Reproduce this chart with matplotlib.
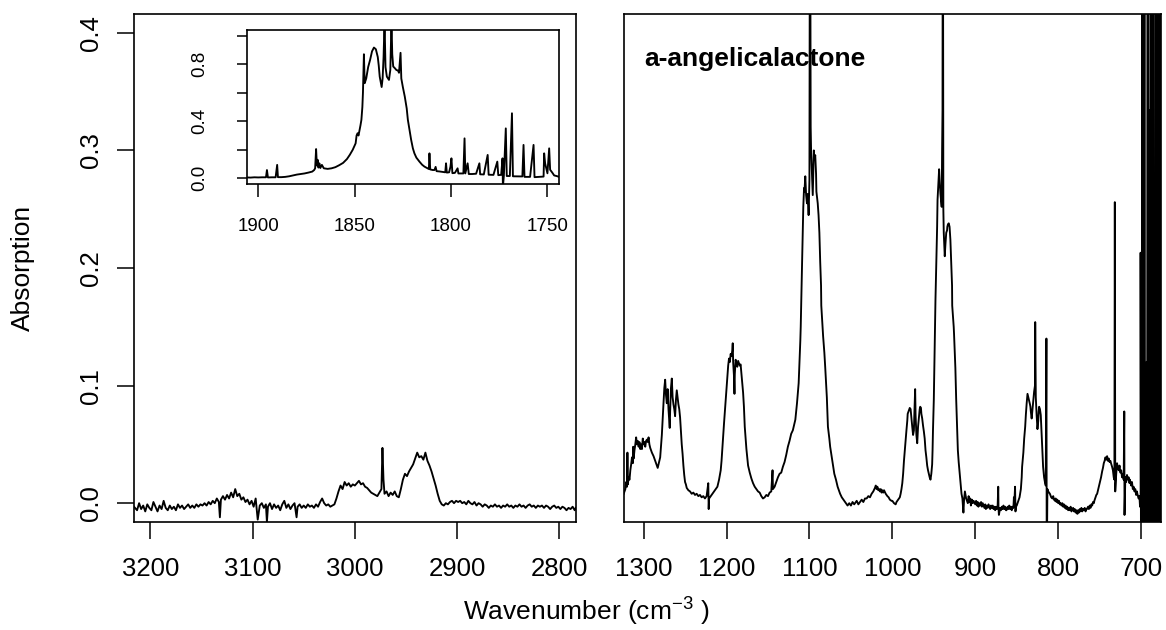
import numpy as np
import matplotlib.pyplot as plt

plt.rcParams['font.family'] = ['Liberation Sans', 'DejaVu Sans']
plt.rcParams['mathtext.fontset'] = 'custom'
plt.rcParams['mathtext.rm'] = 'Liberation Sans'
plt.rcParams['mathtext.it'] = 'Liberation Sans:italic'

# C-H stretch region (wavenumber, absorption)
ch_band = [
    (3216, -0.003), (3213, -0.006), (3211, 0.000), (3209, -0.005), (3207, -0.002),
    (3205, -0.007), (3203, -0.001), (3201, -0.004), (3199, -0.006), (3197, 0.001),
    (3195, -0.003), (3193, -0.007), (3191, -0.002), (3189, -0.005), (3187, 0.002),
    (3185, -0.004), (3183, -0.006), (3181, -0.002), (3179, -0.005), (3177, -0.003),
    (3175, -0.006), (3173, -0.001), (3171, -0.004), (3169, -0.002), (3167, -0.005),
    (3165, -0.003), (3163, -0.001), (3161, -0.004), (3159, -0.002), (3157, -0.004),
    (3155, -0.001), (3153, -0.003), (3151, -0.001), (3149, -0.002), (3147, 0.000),
    (3145, -0.002), (3143, 0.001), (3141, -0.001), (3139, 0.002), (3137, 0.000),
    (3135, 0.004), (3133, 0.001), (3132, -0.012), (3131, 0.003), (3129, 0.006),
    (3127, 0.003), (3125, 0.007), (3123, 0.004), (3121, 0.009), (3119, 0.005),
    (3117, 0.012), (3115, 0.006), (3113, 0.008), (3111, 0.003), (3109, 0.005),
    (3107, 0.001), (3105, 0.003), (3103, -0.001), (3101, 0.002), (3099, -0.003),
    (3097, 0.004), (3095, -0.014), (3093, -0.002), (3091, 0.000), (3089, -0.004),
    (3087, -0.001), (3086, -0.016), (3085, -0.003), (3083, 0.000), (3081, -0.005),
    (3079, -0.001), (3077, -0.004), (3075, -0.002), (3073, -0.006), (3071, -0.001),
    (3069, 0.002), (3067, -0.004), (3065, -0.001), (3063, -0.005), (3061, -0.002),
    (3059, 0.000), (3057, -0.012), (3056, -0.003), (3054, -0.001), (3052, -0.004),
    (3050, -0.002), (3048, -0.004), (3046, -0.001), (3044, -0.003), (3042, -0.002),
    (3040, -0.004), (3038, -0.001), (3036, -0.003), (3034, 0.001), (3032, 0.004),
    (3030, 0.000), (3028, -0.002), (3026, -0.001), (3024, -0.003), (3022, -0.002),
    (3020, -0.001), (3018, 0.004), (3016, 0.010), (3014, 0.015), (3012, 0.012),
    (3010, 0.018), (3008, 0.015), (3006, 0.017), (3004, 0.014), (3002, 0.016),
    (3000, 0.015), (2998, 0.017), (2996, 0.019), (2994, 0.016), (2992, 0.017),
    (2990, 0.014), (2988, 0.013), (2986, 0.011), (2984, 0.009), (2982, 0.008),
    (2980, 0.007), (2978, 0.006), (2976, 0.009), (2974, 0.012), (2973, 0.047),
    (2972, 0.020), (2971, 0.008), (2969, 0.010), (2967, 0.006), (2965, 0.009),
    (2963, 0.007), (2961, 0.010), (2959, 0.006), (2957, 0.005), (2955, 0.012),
    (2953, 0.020), (2951, 0.025), (2949, 0.023), (2947, 0.027), (2945, 0.030),
    (2943, 0.033), (2941, 0.038), (2939, 0.043), (2937, 0.039), (2935, 0.040),
    (2933, 0.037), (2931, 0.043), (2929, 0.036), (2927, 0.032), (2925, 0.027),
    (2923, 0.021), (2921, 0.015), (2919, 0.008), (2917, 0.002), (2915, -0.001),
    (2913, -0.002), (2911, 0.000), (2909, -0.001), (2907, 0.001), (2905, 0.002),
    (2903, 0.000), (2901, 0.002), (2899, 0.001), (2897, 0.002), (2895, 0.000),
    (2893, 0.001), (2891, -0.001), (2889, 0.002), (2887, 0.000), (2885, -0.001),
    (2883, 0.001), (2881, -0.002), (2879, 0.000), (2877, -0.001), (2875, -0.003),
    (2873, -0.001), (2871, -0.002), (2869, -0.004), (2867, -0.002), (2865, -0.003),
    (2863, -0.001), (2861, -0.003), (2859, -0.002), (2857, -0.004), (2855, -0.002),
    (2853, -0.003), (2851, -0.001), (2849, -0.003), (2847, -0.002), (2845, -0.004),
    (2843, -0.002), (2841, -0.003), (2839, -0.001), (2837, -0.003), (2835, -0.002),
    (2833, -0.004), (2831, -0.002), (2829, -0.001), (2827, -0.003), (2825, -0.002),
    (2823, -0.004), (2821, -0.002), (2819, -0.003), (2817, -0.002), (2815, -0.004),
    (2813, -0.002), (2811, -0.003), (2809, -0.005), (2807, -0.003), (2805, -0.002),
    (2803, -0.004), (2801, -0.003), (2799, -0.005), (2797, -0.003), (2795, -0.004),
    (2793, -0.006), (2791, -0.004), (2789, -0.005), (2787, -0.003), (2785, -0.006),
    (2784, -0.004),
]

# C=O stretch region, shown in the inset
co_band = [
    (1906, 0.006), (1904, 0.005), (1902, 0.007), (1900, 0.006), (1898, 0.007),
    (1896, 0.007), (1895.5, 0.058), (1895, 0.006), (1893, 0.007), (1891, 0.007),
    (1890.2, 0.094), (1889.8, 0.008), (1888, 0.008), (1886, 0.010), (1884, 0.014),
    (1882, 0.020), (1880, 0.026), (1878, 0.030), (1876, 0.034), (1874, 0.040),
    (1872, 0.047), (1871, 0.058), (1870.5, 0.070), (1870, 0.205), (1869.6, 0.090),
    (1869.2, 0.130), (1868.8, 0.075), (1868.3, 0.105), (1867.8, 0.072), (1867, 0.094),
    (1866, 0.070), (1864, 0.066), (1862, 0.070), (1860, 0.078), (1858, 0.092),
    (1856, 0.108), (1854, 0.135), (1852.5, 0.165), (1851, 0.200), (1849.5, 0.245),
    (1849, 0.300), (1848.5, 0.316), (1848, 0.300), (1847, 0.370), (1846.5, 0.410),
    (1846, 0.500), (1845.7, 0.600), (1845.2, 0.870), (1844.8, 0.667), (1844, 0.700),
    (1843, 0.780), (1842, 0.830), (1841, 0.890), (1840, 0.917), (1839, 0.905),
    (1838, 0.850), (1837.5, 0.790), (1837, 0.713), (1836, 0.640), (1835.5, 0.700),
    (1835, 0.850), (1834.5, 1.100), (1834, 0.780), (1833.3, 0.713), (1832.2, 0.690),
    (1831.5, 0.760), (1830.9, 1.100), (1830.5, 0.870), (1830, 0.784), (1829, 0.770),
    (1828.4, 0.760), (1827.5, 0.755), (1827, 0.740), (1826.2, 0.880), (1825.8, 0.700),
    (1825, 0.640), (1824, 0.573), (1823, 0.490), (1822.4, 0.410), (1821.5, 0.335),
    (1820.7, 0.270), (1819.8, 0.210), (1819, 0.175), (1818, 0.145), (1816.4, 0.117),
    (1815, 0.095), (1813.8, 0.082), (1812.5, 0.072), (1811.5, 0.065), (1811.2, 0.175),
    (1810.8, 0.062), (1809.5, 0.058), (1808.6, 0.058), (1808, 0.080), (1807.5, 0.050),
    (1806, 0.048), (1804.5, 0.045), (1803, 0.042), (1802.6, 0.105), (1802.2, 0.040),
    (1801, 0.042), (1800.3, 0.082), (1799.8, 0.140), (1799.3, 0.036), (1798, 0.038),
    (1796.6, 0.070), (1796.2, 0.034), (1795, 0.034), (1793.6, 0.034), (1793, 0.280),
    (1792.6, 0.034), (1791.4, 0.105), (1790.8, 0.030), (1789, 0.030), (1787, 0.032),
    (1785.3, 0.105), (1784.9, 0.028), (1783, 0.027), (1781, 0.164), (1780.5, 0.025),
    (1778, 0.024), (1776, 0.117), (1775.5, 0.022), (1774, 0.024), (1773.3, 0.140),
    (1773.1, -0.060), (1772.6, 0.018), (1771.6, 0.350), (1771.1, 0.016), (1769.5, 0.016),
    (1768.4, 0.456), (1767.9, 0.014), (1765, 0.013), (1763, 0.013), (1762.4, 0.234),
    (1761.9, 0.010), (1759, 0.010), (1757.2, 0.234), (1756.7, 0.008), (1754, 0.010),
    (1752, 0.012), (1751.7, 0.175), (1751.2, 0.105), (1750, 0.035), (1749.1, 0.210),
    (1748.6, 0.060), (1747.5, 0.040), (1746.5, 0.020), (1745, 0.015), (1744, 0.010),
]

# fingerprint region
fp_band = [
    (1324, 0.008), (1322, 0.012), (1321, 0.018), (1320, 0.014), (1319.5, 0.043),
    (1319, 0.016), (1318, 0.022), (1317, 0.020), (1316, 0.028), (1315, 0.033),
    (1314, 0.039), (1313, 0.034), (1312.5, 0.048), (1312, 0.038), (1311, 0.045),
    (1310, 0.050), (1309, 0.056), (1308, 0.050), (1307, 0.053), (1306, 0.048),
    (1305, 0.052), (1304, 0.046), (1303, 0.050), (1302, 0.046), (1301, 0.055),
    (1300, 0.050), (1299, 0.052), (1298, 0.048), (1297, 0.053), (1296, 0.054),
    (1295, 0.052), (1294, 0.056), (1293, 0.050), (1292, 0.047), (1291, 0.045),
    (1290, 0.043), (1288, 0.040), (1286, 0.036), (1284, 0.032), (1283, 0.030),
    (1282, 0.033), (1281, 0.036), (1280, 0.039), (1279, 0.048), (1278, 0.058),
    (1277, 0.072), (1276, 0.085), (1275, 0.098), (1274, 0.105), (1273, 0.092),
    (1272, 0.085), (1271, 0.097), (1270, 0.080), (1269, 0.070), (1268.5, 0.064),
    (1268, 0.078), (1267, 0.098), (1266, 0.106), (1265, 0.090), (1264, 0.084),
    (1263, 0.080), (1262, 0.074), (1261, 0.088), (1260, 0.096), (1259, 0.090),
    (1258, 0.084), (1257, 0.080), (1256, 0.073), (1255, 0.062), (1254, 0.050),
    (1253, 0.042), (1252, 0.032), (1251, 0.024), (1250, 0.018), (1249, 0.016),
    (1248, 0.013), (1246, 0.011), (1244, 0.010), (1242, 0.008), (1240, 0.009),
    (1238, 0.007), (1236, 0.008), (1234, 0.006), (1232, 0.007), (1230, 0.005),
    (1228, 0.006), (1226, 0.004), (1224, 0.006), (1222, 0.017), (1221.5, -0.005),
    (1221, 0.004), (1219, 0.006), (1217, 0.008), (1215, 0.010), (1213, 0.012),
    (1211, 0.014), (1209, 0.020), (1207, 0.028), (1206, 0.036), (1205, 0.047),
    (1204, 0.059), (1203, 0.068), (1202, 0.078), (1201, 0.088), (1200, 0.098),
    (1199, 0.108), (1198, 0.117), (1197, 0.123), (1196, 0.120), (1195, 0.127),
    (1194, 0.125), (1193, 0.130), (1192.5, 0.136), (1192, 0.120), (1191, 0.108),
    (1190.4, 0.093), (1190, 0.110), (1189, 0.122), (1188, 0.118), (1187, 0.116),
    (1186, 0.121), (1185, 0.119), (1184, 0.117), (1183, 0.118), (1182, 0.110),
    (1181, 0.102), (1180, 0.094), (1179, 0.082), (1178, 0.065), (1177, 0.055),
    (1176, 0.046), (1175, 0.039), (1174, 0.032), (1172, 0.026), (1170, 0.021),
    (1168, 0.017), (1166, 0.014), (1164, 0.012), (1162, 0.010), (1160, 0.009),
    (1158, 0.006), (1156, 0.004), (1154, 0.005), (1152, 0.007), (1150, 0.006),
    (1148, 0.009), (1146, 0.010), (1144.5, 0.028), (1144, 0.012), (1142, 0.014),
    (1140, 0.018), (1138, 0.022), (1136, 0.025), (1134, 0.026), (1132, 0.031),
    (1130, 0.035), (1128, 0.041), (1126, 0.048), (1124, 0.053), (1122, 0.059),
    (1120, 0.062), (1118, 0.068), (1117, 0.071), (1116, 0.078), (1115, 0.085),
    (1114, 0.093), (1113, 0.102), (1112, 0.120), (1111, 0.138), (1110.5, 0.150),
    (1110, 0.168), (1109, 0.200), (1108, 0.232), (1107.4, 0.252), (1106.5, 0.268),
    (1106, 0.265), (1105, 0.278), (1104, 0.262), (1103, 0.255), (1102, 0.263),
    (1101, 0.245), (1100, 0.275), (1099.3, 0.600), (1098.5, 0.320), (1098, 0.300),
    (1097, 0.280), (1096, 0.262), (1095, 0.290), (1094.7, 0.300), (1094, 0.292),
    (1093, 0.296), (1092, 0.280), (1091.6, 0.265), (1090, 0.255), (1089, 0.245),
    (1088, 0.230), (1087, 0.205), (1086, 0.185), (1085.7, 0.168), (1085, 0.160),
    (1084, 0.150), (1083.5, 0.142), (1082, 0.128), (1081, 0.116), (1079, 0.090),
    (1077.7, 0.065), (1076, 0.055), (1075, 0.048), (1073, 0.039), (1071, 0.030),
    (1070, 0.025), (1068, 0.020), (1066, 0.014), (1064, 0.010), (1063, 0.008),
    (1061, 0.005), (1059, 0.003), (1057, 0.001), (1055, -0.001), (1054, -0.002),
    (1052, 0.000), (1050, -0.002), (1048, 0.001), (1046, -0.001), (1045, 0.000),
    (1043, 0.002), (1041, -0.001), (1039, 0.001), (1037, 0.003), (1035, 0.001),
    (1033, 0.004), (1031, 0.004), (1029, 0.006), (1027, 0.005), (1025, 0.008),
    (1023, 0.010), (1021, 0.013), (1020, 0.015), (1019, 0.012), (1018, 0.014),
    (1017, 0.011), (1016, 0.012), (1015, 0.010), (1014, 0.012), (1013, 0.009),
    (1012, 0.011), (1011, 0.009), (1010, 0.011), (1008, 0.008), (1006, 0.006),
    (1004.5, 0.005), (1003, 0.003), (1001, 0.002), (1000, 0.002), (998, 0.000),
    (996, -0.001), (995, 0.001), (993, 0.003), (991, 0.005), (990, 0.008),
    (989, 0.012), (988, 0.017), (987, 0.025), (986, 0.036), (985, 0.045),
    (984, 0.053), (983, 0.062), (982, 0.070), (981.5, 0.076), (980, 0.079),
    (979, 0.081), (978, 0.080), (977, 0.072), (976, 0.065), (975, 0.058),
    (974.5, 0.060), (974, 0.062), (973.5, 0.075), (972.5, 0.097), (972, 0.075),
    (971, 0.058), (970, 0.051), (969, 0.065), (968, 0.073), (967, 0.080),
    (966.4, 0.082), (965.5, 0.081), (965, 0.076), (964, 0.072), (963, 0.066),
    (962, 0.061), (961, 0.055), (960, 0.045), (959, 0.039), (958, 0.032),
    (957, 0.028), (956, 0.025), (955, 0.022), (954, 0.020), (953, 0.025),
    (952, 0.033), (951.5, 0.045), (951, 0.062), (950, 0.088), (949, 0.130),
    (948, 0.173), (947, 0.205), (946, 0.235), (945.5, 0.258), (945, 0.265),
    (944, 0.280), (943.6, 0.284), (943, 0.275), (942, 0.263), (941, 0.255),
    (940.5, 0.252), (940, 0.300), (939.5, 0.334), (939.1, 0.600), (938.5, 0.250),
    (938, 0.230), (937, 0.212), (936.8, 0.210), (936, 0.220), (935, 0.230),
    (934, 0.232), (933.7, 0.235), (933, 0.237), (932, 0.238), (931, 0.235),
    (930, 0.224), (929, 0.205), (928, 0.185), (927.8, 0.168), (927, 0.160),
    (926, 0.150), (925.6, 0.144), (924, 0.115), (923, 0.088), (922, 0.065),
    (921, 0.045), (920, 0.035), (919, 0.027), (918.8, 0.025), (918, 0.018),
    (917, 0.012), (916.6, 0.008), (915.5, 0.004), (914.3, -0.008), (913.5, 0.003),
    (912.5, 0.010), (911, 0.004), (910, 0.002), (909, 0.000), (908, 0.006),
    (907, 0.001), (906, 0.004), (905.3, -0.002), (904, 0.003), (903, 0.000),
    (902, 0.002), (900, -0.001), (899, 0.002), (898, -0.002), (897, 0.001),
    (896.2, -0.003), (895, 0.000), (894, -0.002), (893, 0.001), (892, -0.003),
    (891, 0.000), (890, -0.002), (889, -0.004), (888, -0.001), (887.2, -0.005),
    (886, -0.002), (885, -0.004), (884, -0.001), (883, -0.003), (882, -0.005),
    (881, -0.002), (880, -0.004), (879, -0.002), (878, -0.005), (877, -0.003),
    (876, -0.006), (875, -0.003), (874, -0.005), (873, -0.002), (872.3, 0.014),
    (872, -0.004), (871.5, -0.010), (870, -0.004), (869, -0.006), (868, -0.003),
    (867, -0.005), (866, -0.002), (865, -0.005), (864, -0.003), (863, -0.006),
    (862.4, -0.006), (861, -0.003), (860, -0.005), (859, -0.002), (858, -0.005),
    (857, -0.003), (856, -0.006), (855, -0.003), (854, -0.004), (853.4, 0.005),
    (853, -0.002), (852, 0.014), (851.5, -0.007), (851, -0.003), (850, -0.002),
    (849, 0.000), (848, 0.002), (846.6, 0.005), (845, 0.012), (844, 0.022),
    (843.5, 0.031), (842, 0.043), (841, 0.055), (839.8, 0.065), (839, 0.075),
    (838, 0.085), (837, 0.093), (836, 0.090), (835, 0.087), (834, 0.084),
    (833.5, 0.082), (833, 0.078), (832, 0.072), (831, 0.080), (830, 0.088),
    (829, 0.095), (828, 0.100), (827.7, 0.154), (827, 0.090), (826, 0.075),
    (825, 0.063), (824, 0.070), (823.5, 0.078), (823, 0.082), (822, 0.080),
    (821, 0.075), (820, 0.060), (819, 0.045), (818.2, 0.031), (817, 0.022),
    (816, 0.018), (815, 0.015), (814.2, 0.140), (813.8, -0.060), (813, 0.012),
    (812, 0.010), (811, 0.009), (810, 0.008), (809, 0.006), (808.4, 0.005),
    (807, 0.004), (806, 0.006), (805, 0.003), (803.8, 0.002), (803, 0.004),
    (802, 0.001), (801, 0.003), (800, 0.000), (799, 0.002), (798, -0.001),
    (797, 0.000), (796, -0.002), (795, 0.000), (794, -0.003), (793, -0.001),
    (792, -0.004), (791, -0.002), (790.2, -0.005), (789, -0.003), (788, -0.006),
    (787, -0.004), (786, -0.006), (785, -0.003), (784, -0.007), (783.5, -0.006),
    (782, -0.004), (781, -0.007), (780, -0.005), (779, -0.008), (778, -0.006),
    (777, -0.009), (776.7, -0.009), (776, -0.006), (775, -0.008), (774, -0.005),
    (773, -0.007), (772, -0.004), (771, -0.007), (770, -0.005), (769, -0.006),
    (768, -0.004), (767, -0.007), (766, -0.005), (765.4, -0.005), (764, -0.003),
    (763, -0.005), (762, -0.002), (761, -0.004), (760, -0.001), (759, -0.002),
    (758, 0.001), (757, 0.000), (756.4, 0.002), (755, 0.005), (754, 0.007),
    (753, 0.008), (752, 0.011), (751, 0.014), (750, 0.017), (749, 0.020),
    (748.3, 0.022), (747, 0.027), (746, 0.030), (745, 0.034), (744, 0.036),
    (743, 0.039), (742, 0.037), (741.5, 0.038), (741, 0.040), (740, 0.036),
    (739, 0.038), (738, 0.035), (737, 0.036), (736.3, 0.034), (735, 0.031),
    (734, 0.028), (733.5, 0.025), (733, 0.022), (732.2, 0.020), (731.7, 0.256),
    (731.2, 0.010), (730, 0.025), (729, 0.034), (728, 0.030), (727, 0.028),
    (726, 0.032), (725, 0.026), (724, 0.028), (723, 0.022), (722, 0.025),
    (721, 0.020), (720.3, 0.078), (720, -0.010), (719, 0.022), (718, 0.018),
    (717, 0.024), (716, 0.020), (715, 0.022), (714, 0.017), (713.5, 0.020),
    (712, 0.015), (711, 0.018), (710, 0.012), (709, 0.014), (708, 0.010),
    (707, 0.012), (706, 0.007), (705, 0.010), (704.5, 0.008), (703, 0.004),
    (702, 0.006), (701.3, -0.003), (700.5, 0.002), (700.6, 0.213), (700.2, -0.020),
    (699.8, 0.060), (699.4, -0.030), (699.0, 0.090), (698.6, 0.700), (698.2, 0.010),
    (697.8, 0.080), (697.4, -0.030), (697.0, 0.110), (696.6, 0.000), (696.2, 0.700),
    (695.8, 0.700), (695.4, 0.020), (695.0, 0.100), (694.6, -0.030), (694.2, 0.070),
    (693.8, 0.000), (693.4, 0.120), (693.0, -0.020), (692.6, 0.080), (692.2, 0.700),
    (691.8, 0.700), (691.4, 0.030), (691.0, 0.090), (690.6, -0.030), (690.2, 0.100),
    (689.8, 0.010), (689.4, 0.334), (689.0, 0.020), (688.5, 0.700), (688.1, -0.030),
    (687.7, 0.243), (687.3, 0.000), (686.9, 0.090), (686.5, -0.020), (686.1, 0.110),
    (685.7, 0.700), (685.3, 0.700), (684.9, 0.010), (684.5, 0.100), (684.1, -0.030),
    (683.7, 0.080), (683.3, 0.000), (682.9, 0.120), (682.5, 0.700), (682.1, 0.700),
    (681.7, -0.020), (681.3, 0.100), (680.9, 0.010), (680.5, 0.090), (680.1, 0.700),
    (679.7, 0.700), (679.3, -0.030), (678.9, 0.110), (678.5, 0.000), (678.1, 0.090),
    (677.7, 0.700), (677.3, 0.700), (676.9, -0.020), (676.5, 0.100), (676.1, 0.700),
    (675.7, 0.700), (675.2, 0.700), (674.8, 0.700),
]

compound = 'a-angelicalactone'
ch_ticks = [3200, 3100, 3000, 2900, 2800]
fp_ticks = [1300, 1200, 1100, 1000, 900, 800, 700]
co_ticks = [1900, 1850, 1800, 1750]
abs_ticks = [0.0, 0.1, 0.2, 0.3, 0.4]
inset_yticks = [0.0, 0.2, 0.4, 0.6, 0.8, 1.0]

ch_x, ch_y = np.array(ch_band).T
co_x, co_y = np.array(co_band).T
fp_x, fp_y = np.array(fp_band).T

W, H = 1166, 630
fig = plt.figure(figsize=(W / 100, H / 100), dpi=100)


def px_box(x0, y0, x1, y1):
    return [x0 / W, 1 - y1 / H, (x1 - x0) / W, (y1 - y0) / H]


ax1 = fig.add_axes(px_box(134, 14, 575.7, 522))
ax2 = fig.add_axes(px_box(623.7, 14, 1161, 522))
ins = fig.add_axes(px_box(246.7, 30, 559, 184))

lw = 1.35
for ax in (ax1, ax2, ins):
    for s in ax.spines.values():
        s.set_linewidth(1.2)

# left: C-H region
ax1.plot(ch_x, ch_y, color='black', lw=lw)
ax1.set_xlim(3216, 2784)
ax1.set_ylim(-0.016, 0.416)
ax1.set_xticks(ch_ticks)
ax1.set_xticklabels([str(t) for t in ch_ticks])
ax1.set_yticks(abs_ticks)
ax1.set_yticklabels(['%.1f' % t for t in abs_ticks], rotation=90, va='center')
ax1.tick_params(axis='both', direction='out', length=12, width=1.1, labelsize=18.5)
ax1.tick_params(axis='x', pad=13)
ax1.tick_params(axis='y', pad=10.5)

# inset: C=O region
ins.plot(co_x, co_y, color='black', lw=lw)
ins.set_xlim(1906, 1744)
ins.set_ylim(-0.04, 1.04)
ins.set_xticks(co_ticks)
ins.set_xticklabels([str(t) for t in co_ticks])
ins.set_yticks(inset_yticks)
ins.set_yticklabels(['0.0', '', '0.4', '', '0.8', ''], rotation=90, va='center')
ins.tick_params(axis='both', direction='out', length=9, width=1.1, labelsize=13.5)
ins.tick_params(axis='x', pad=15.5)
ins.tick_params(axis='y', length=7.5, pad=20)

# right: fingerprint region
ax2.plot(fp_x, fp_y, color='black', lw=lw)
ax2.set_xlim(1324, 676)
ax2.set_ylim(-0.016, 0.416)
ax2.set_xticks(fp_ticks)
ax2.set_xticklabels([str(t) for t in fp_ticks])
ax2.set_yticks([])
ax2.tick_params(axis='x', direction='out', length=12, width=1.1, labelsize=18.5, pad=13)
ax2.text(0.0386, 0.8976, compound, transform=ax2.transAxes, fontsize=19,
         fontweight='bold', ha='left', va='baseline')

fig.text(586 / W, 1 - 621 / H, 'Wavenumber (cm$^{-3}$ )', ha='center', va='baseline',
         fontsize=19)
fig.text(23 / W, 1 - 268 / H, 'Absorption', rotation=90, ha='center', va='center',
         fontsize=19)

fig.savefig('out.png', dpi=100)
